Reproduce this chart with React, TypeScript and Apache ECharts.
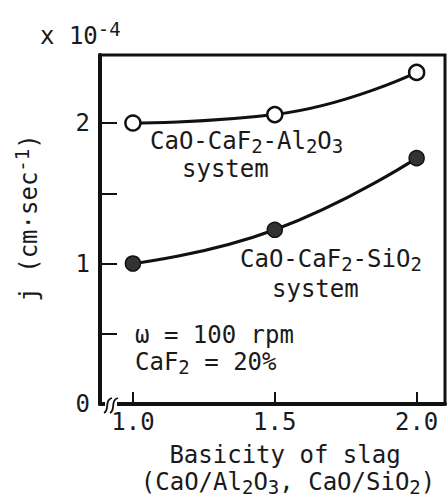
import React, { useEffect, useRef } from "react";
import * as echarts from "echarts";

const basicity = [1.0, 1.5, 2.0];
const alSystem = [2.0, 2.06, 2.36];
const siSystem = [1.0, 1.24, 1.75];
const xTickValues = [1.0, 1.5, 2.0];
const yTickValues = [0.5, 1, 1.5, 2];
const yLabelValues = [0, 1, 2];

const FONT = "DejaVu Sans Mono";
const INK = "#1a1a1a";

const rich = {
  n: { fontSize: 24, lineHeight: 26, fontFamily: FONT, color: INK },
  s: { fontSize: 19, lineHeight: 10, fontFamily: FONT, color: INK, padding: [10, 0, 0, 0] },
  p: { fontSize: 19, lineHeight: 10, fontFamily: FONT, color: INK, padding: [0, 0, 14, 0] },
};

function txt(x: number, y: number, text: string, align: string = "left", rotation = 0) {
  return {
    type: "text",
    x,
    y,
    rotation,
    silent: true,
    style: {
      text,
      rich,
      fontSize: 24,
      fontFamily: FONT,
      fill: INK,
      align,
      verticalAlign: "middle",
    },
  };
}

export default function App() {
  const ref = useRef<HTMLDivElement>(null);
  useEffect(() => {
    const chart = echarts.init(ref.current!, null, { renderer: "svg" });
    chart.setOption({
      animation: false,
      backgroundColor: "#fff",
      grid: {
        left: 100,
        right: 3,
        top: 55,
        bottom: 95,
        show: true,
        borderColor: "#111",
        borderWidth: 3,
      },
      xAxis: {
        type: "value",
        min: 0.884,
        max: 2.1,
        axisLine: { show: true, lineStyle: { color: "#111", width: 4 } },
        axisTick: {
          show: true,
          inside: true,
          length: 12,
          customValues: xTickValues,
          lineStyle: { color: "#111", width: 2 },
        },
        axisLabel: {
          customValues: xTickValues,
          formatter: (v: number) => v.toFixed(1),
          margin: 6,
          fontSize: 24,
          fontFamily: FONT,
          color: INK,
        },
        splitLine: { show: false },
      },
      yAxis: {
        type: "value",
        min: 0,
        max: 2.484,
        axisLine: { show: true, lineStyle: { color: "#111", width: 4 } },
        axisTick: {
          show: true,
          inside: true,
          length: 17,
          customValues: yTickValues,
          lineStyle: { color: "#111", width: 2 },
        },
        axisLabel: {
          customValues: yLabelValues,
          formatter: (v: number) => String(Math.round(v)),
          margin: 10,
          fontSize: 24,
          fontFamily: FONT,
          color: INK,
        },
        splitLine: { show: false },
      },
      series: [
        {
          name: "CaO-CaF2-Al2O3 system",
          type: "line",
          data: basicity.map((x, i) => [x, alSystem[i]]),
          smooth: 0.5,
          symbol: "circle",
          symbolSize: 15,
          lineStyle: { color: "#111", width: 3 },
          itemStyle: { color: "#fff", borderColor: "#111", borderWidth: 2.5 },
          z: 3,
        },
        {
          name: "CaO-CaF2-SiO2 system",
          type: "line",
          data: basicity.map((x, i) => [x, siSystem[i]]),
          smooth: 0.5,
          symbol: "circle",
          symbolSize: 15,
          lineStyle: { color: "#111", width: 3 },
          itemStyle: { color: "#333", borderColor: "#111", borderWidth: 1.5 },
          z: 3,
        },
      ],
      graphic: [
        { type: "rect", shape: { x: 105, y: 399, width: 12, height: 9 }, style: { fill: "#fff" }, z: 100, silent: true },
        {
          type: "bezierCurve",
          shape: { x1: 104, y1: 413, cpx1: 110, cpy1: 410, cpx2: 104, cpy2: 400, x2: 112, y2: 398 },
          style: { stroke: "#111", lineWidth: 1.8, fill: null },
          z: 101,
          silent: true,
        },
        {
          type: "bezierCurve",
          shape: { x1: 110, y1: 413, cpx1: 116, cpy1: 410, cpx2: 110, cpy2: 400, x2: 118, y2: 398 },
          style: { stroke: "#111", lineWidth: 1.8, fill: null },
          z: 101,
          silent: true,
        },
        txt(40, 36, "{n|x 10}{p|-4}"),
        txt(29, 218, "{n|j (cm·sec}{p|-1}{n|)}", "center", Math.PI / 2),
        txt(150, 141, "{n|CaO-CaF}{s|2}{n|-Al}{s|2}{n|O}{s|3}"),
        txt(182, 169, "{n|system}"),
        txt(240, 259, "{n|CaO-CaF}{s|2}{n|-SiO}{s|2}"),
        txt(272, 289, "{n|system}"),
        txt(135, 335, "{n|ω = 100 rpm}"),
        txt(135, 362, "{n|CaF}{s|2}{n| = 20%}"),
        txt(285, 455, "{n|Basicity of slag}", "center"),
        txt(288, 482, "{n|(CaO/Al}{s|2}{n|O}{s|3}{n|, CaO/SiO}{s|2}{n|)}", "center"),
      ],
    });
    return () => chart.dispose();
  }, []);
  return <div ref={ref} style={{ position: "fixed", left: 0, top: 0, width: 448, height: 499 }} />;
}
